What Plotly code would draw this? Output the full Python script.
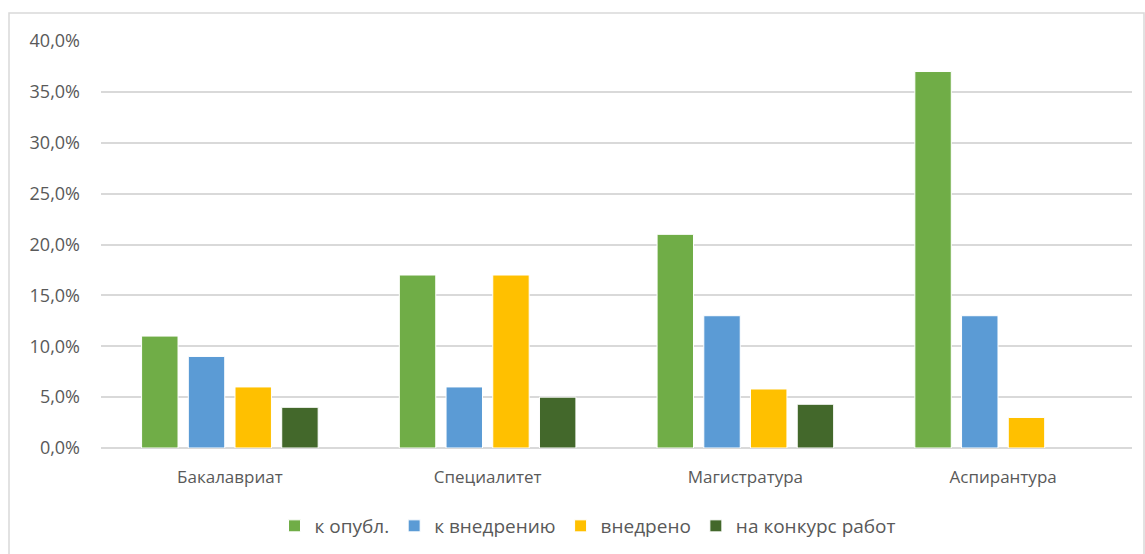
import plotly.graph_objects as go

categories = ["Бакалавриат", "Специалитет", "Магистратура", "Аспирантура"]
series_names = ["к опубл.", "к внедрению", "внедрено", "на конкурс работ"]
v_publ = [11.0, 17.0, 21.0, 37.0]
v_vnedr = [9.0, 6.0, 13.0, 13.0]
v_done = [6.0, 17.0, 5.8, 3.0]
v_konk = [4.0, 5.0, 4.3, 0.0]
colors = ["#70AD47", "#5B9BD5", "#FFC000", "#43682B"]
y_ticks = [0, 5, 10, 15, 20, 25, 30, 35, 40]
y_ticktext = [f"{v:.1f}%".replace(".", ",") for v in y_ticks]

fig = go.Figure()
for name, vals, col in zip(series_names, [v_publ, v_vnedr, v_done, v_konk], colors):
    fig.add_trace(go.Bar(
        x=categories, y=vals, name=name,
        marker=dict(color=col, line=dict(color="white",
                                         width=[0 if v == 0 else 1 for v in vals])),
    ))

W, H = 1145, 554
L, R, T, B = 101, 13, 41, 106
pw = W - L - R
ph = H - T - B

def px_to_paper_x(px):
    return (px - L) / pw

def px_to_paper_y(py):
    return (H - B - py) / ph

font_family = "'Open Sans', 'Noto Sans', sans-serif"
fig.update_layout(
    width=W, height=H,
    margin=dict(l=L, r=R, t=T, b=B, autoexpand=False),
    paper_bgcolor="white", plot_bgcolor="white",
    barmode="group", bargap=0.275, bargroupgap=0.22,
    font=dict(family=font_family, size=17, color="#595959"),
    showlegend=True,
    legend=dict(
        orientation="h", x=px_to_paper_x(588), xanchor="center",
        y=px_to_paper_y(526), yanchor="middle",
        font=dict(size=19, color="#595959"),
        itemwidth=30, traceorder="normal",
    ),
    xaxis=dict(
        showgrid=False, showline=False, zeroline=False,
        ticks="", ticklabelstandoff=17,
        tickfont=dict(size=17, color="#595959"),
    ),
    yaxis=dict(
        range=[0, 40], tickvals=y_ticks, ticktext=y_ticktext,
        showgrid=True, gridcolor="#D9D9D9", gridwidth=1.5,
        zeroline=True, zerolinecolor="#D9D9D9", zerolinewidth=1.5,
        showline=False, ticks="", ticklabelstandoff=20,
        tickfont=dict(size=18, color="#595959"),
    ),
    shapes=[dict(
        type="rect", xref="paper", yref="paper",
        x0=px_to_paper_x(9), x1=px_to_paper_x(1144),
        y0=px_to_paper_y(600), y1=px_to_paper_y(13),
        line=dict(color="#D9D9D9", width=1.5), fillcolor="rgba(0,0,0,0)",
        layer="below",
    )],
)

fig.write_html("out.html", config={"displayModeBar": False},
               post_script="document.body.style.margin='0';document.body.style.overflow='hidden';")
